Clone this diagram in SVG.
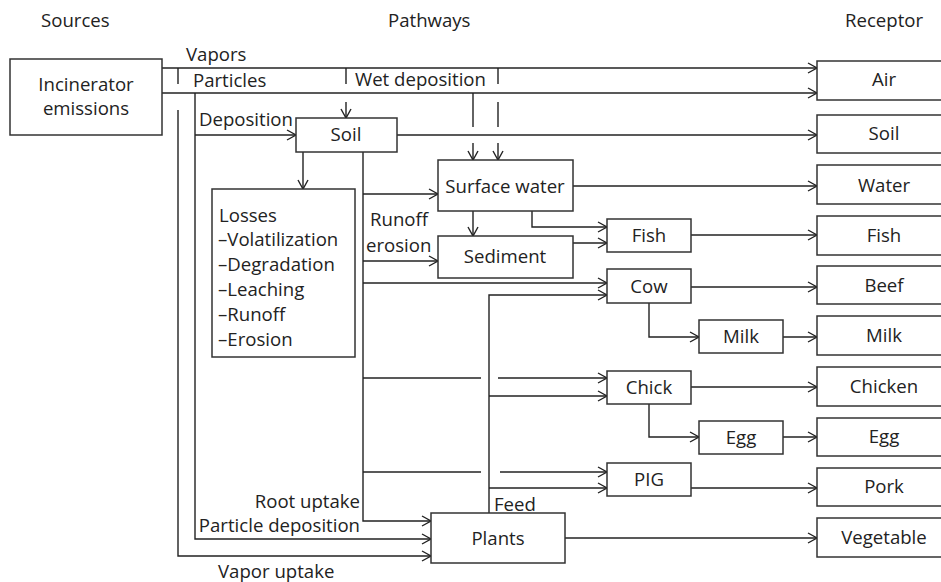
<svg xmlns="http://www.w3.org/2000/svg" width="941" height="582" viewBox="0 0 941 582">
  <defs>
    <style>
      text { font-family: "Open Sans", "Liberation Sans", sans-serif; font-size: 18.6px; fill: #222; }
      .c { text-anchor: middle; }
      .r { text-anchor: end; }
      .box { fill: #fff; stroke: #333; stroke-width: 1.5; }
      .ln { fill: none; stroke: #222; stroke-width: 1.4; }
      .ar { fill: none; stroke: #222; stroke-width: 1.4; marker-end: url(#chev); }
    </style>
    <marker id="chev" markerUnits="userSpaceOnUse" markerWidth="12" markerHeight="12" refX="10" refY="6" orient="auto">
      <path d="M1,1 L10,6 L1,11" fill="none" stroke="#222" stroke-width="1.4"/>
    </marker>
  </defs>
  <rect width="941" height="582" fill="#fff"/>

  <!-- column headings -->
  <text x="41" y="27">Sources</text>
  <text x="388" y="27">Pathways</text>
  <text x="845" y="27">Receptor</text>

  <!-- connectors -->
  <g id="connectors">
    <path class="ar" d="M162,68 H817"/>
    <path class="ar" d="M162,93 H817"/>
    <path class="ln" d="M178,68 V84"/>
    <path class="ln" d="M346,68 V84"/>
    <path class="ln" d="M498,68 V84"/>
    <path class="ar" d="M346,102 V118"/>
    <path class="ln" d="M473,93 V127"/>
    <path class="ar" d="M473,143 V160"/>
    <path class="ln" d="M498,102 V127"/>
    <path class="ar" d="M498,143 V160"/>
    <path class="ar" d="M195,93 V539 H431"/>
    <path class="ar" d="M195,135 H296"/>
    <path class="ar" d="M178,110 V556 H431"/>
    <path class="ar" d="M397,135 H817"/>
    <path class="ar" d="M303,152 V189"/>
    <path class="ar" d="M363,152 V521 H431"/>
    <path class="ar" d="M363,194 H438"/>
    <path class="ar" d="M363,261 H438"/>
    <path class="ar" d="M363,283 H607"/>
    <path class="ln" d="M363,378 H481"/>
    <path class="ar" d="M498,378 H607"/>
    <path class="ln" d="M363,472 H481"/>
    <path class="ar" d="M500,472 H607"/>
    <path class="ar" d="M489,513 V295 H607"/>
    <path class="ar" d="M489,396 H607"/>
    <path class="ar" d="M489,488 H607"/>
    <path class="ar" d="M573,186 H817"/>
    <path class="ar" d="M473,211 V236"/>
    <path class="ar" d="M532,211 V227 H607"/>
    <path class="ar" d="M573,243 H607"/>
    <path class="ar" d="M691,235 H817"/>
    <path class="ar" d="M691,287 H817"/>
    <path class="ar" d="M649,303 V337 H699"/>
    <path class="ar" d="M783,337 H817"/>
    <path class="ar" d="M691,387 H817"/>
    <path class="ar" d="M649,404 V437 H699"/>
    <path class="ar" d="M783,437 H817"/>
    <path class="ar" d="M691,488 H817"/>
    <path class="ar" d="M565,538 H817"/>
  </g>

  <!-- pathway labels -->
  <g id="labels">
    <text x="186" y="61">Vapors</text>
    <text x="193" y="87">Particles</text>
    <text x="355" y="86">Wet deposition</text>
    <text x="199" y="126">Deposition</text>
    <text x="370" y="226">Runoff</text>
    <text x="366" y="252">erosion</text>
    <text x="494" y="511">Feed</text>
    <text class="r" x="360" y="508">Root uptake</text>
    <text class="r" x="360" y="532">Particle deposition</text>
    <text x="218" y="578">Vapor uptake</text>
  </g>

  <!-- source -->
  <g id="incinerator">
    <rect class="box" x="10" y="59" width="152" height="76"/>
    <text class="c" x="86" y="91">Incinerator</text>
    <text class="c" x="86" y="115">emissions</text>
  </g>

  <!-- pathway nodes -->
  <g id="soil">
    <rect class="box" x="296" y="118" width="101" height="34"/>
    <text class="c" x="346" y="141">Soil</text>
  </g>
  <g id="losses">
    <rect class="box" x="212" y="189" width="143" height="168"/>
    <text x="219" y="222">Losses</text>
    <text x="218" y="246">–Volatilization</text>
    <text x="218" y="271">–Degradation</text>
    <text x="218" y="296">–Leaching</text>
    <text x="218" y="321">–Runoff</text>
    <text x="218" y="346">–Erosion</text>
  </g>
  <g id="surface-water">
    <rect class="box" x="438" y="160" width="135" height="51"/>
    <text class="c" x="505" y="193">Surface water</text>
  </g>
  <g id="sediment">
    <rect class="box" x="438" y="236" width="135" height="42"/>
    <text class="c" x="505" y="263">Sediment</text>
  </g>
  <g id="fish">
    <rect class="box" x="607" y="219" width="84" height="33"/>
    <text class="c" x="649" y="242">Fish</text>
  </g>
  <g id="cow">
    <rect class="box" x="607" y="269" width="84" height="34"/>
    <text class="c" x="649" y="293">Cow</text>
  </g>
  <g id="milk">
    <rect class="box" x="699" y="320" width="84" height="33"/>
    <text class="c" x="741" y="343">Milk</text>
  </g>
  <g id="chick">
    <rect class="box" x="607" y="371" width="84" height="33"/>
    <text class="c" x="649" y="394">Chick</text>
  </g>
  <g id="egg">
    <rect class="box" x="699" y="421" width="84" height="33"/>
    <text class="c" x="741" y="444">Egg</text>
  </g>
  <g id="pig">
    <rect class="box" x="607" y="463" width="84" height="33"/>
    <text class="c" x="649" y="486">PIG</text>
  </g>
  <g id="plants">
    <rect class="box" x="431" y="513" width="134" height="50"/>
    <text class="c" x="498" y="545">Plants</text>
  </g>

  <!-- receptors -->
  <g id="r-air">
    <rect class="box" x="817" y="61" width="130" height="39"/>
    <text class="c" x="884" y="86">Air</text>
  </g>
  <g id="r-soil">
    <rect class="box" x="817" y="115" width="130" height="38"/>
    <text class="c" x="884" y="140">Soil</text>
  </g>
  <g id="r-water">
    <rect class="box" x="817" y="165" width="130" height="39"/>
    <text class="c" x="884" y="192">Water</text>
  </g>
  <g id="r-fish">
    <rect class="box" x="817" y="216" width="130" height="39"/>
    <text class="c" x="884" y="242">Fish</text>
  </g>
  <g id="r-beef">
    <rect class="box" x="817" y="266" width="130" height="38"/>
    <text class="c" x="884" y="292">Beef</text>
  </g>
  <g id="r-milk">
    <rect class="box" x="817" y="316" width="130" height="39"/>
    <text class="c" x="884" y="342">Milk</text>
  </g>
  <g id="r-chicken">
    <rect class="box" x="817" y="367" width="130" height="39"/>
    <text class="c" x="884" y="393">Chicken</text>
  </g>
  <g id="r-egg">
    <rect class="box" x="817" y="418" width="130" height="38"/>
    <text class="c" x="884" y="443">Egg</text>
  </g>
  <g id="r-pork">
    <rect class="box" x="817" y="468" width="130" height="38"/>
    <text class="c" x="884" y="493">Pork</text>
  </g>
  <g id="r-vegetable">
    <rect class="box" x="817" y="518" width="130" height="39"/>
    <text class="c" x="884" y="544">Vegetable</text>
  </g>
</svg>
